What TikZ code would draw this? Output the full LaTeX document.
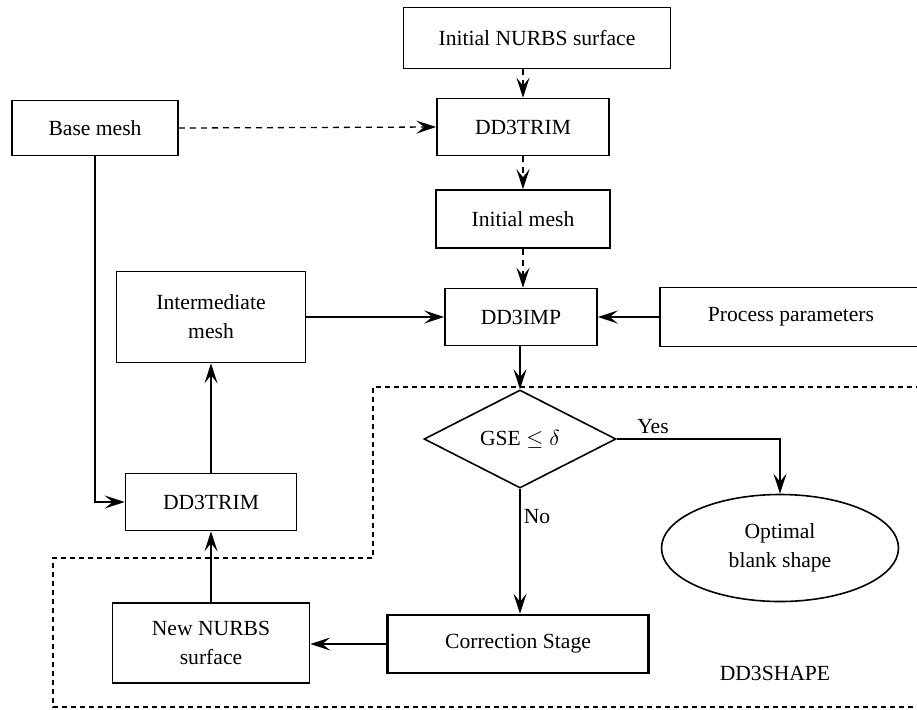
\documentclass[tikz,border=0pt]{standalone}
\usepackage{fontspec}
\setmainfont{Liberation Serif}
\usetikzlibrary{arrows.meta,shapes.geometric}

\begin{document}
\begin{tikzpicture}[x=0.5pt,y=-0.5pt,
  font=\fontsize{10.8}{12.5}\selectfont,
  box/.style={draw,line width=0.8pt,align=center,inner sep=0pt},
  tip/.style={-{Stealth[length=10pt,width=6.5pt,inset=4pt]}},
  flow/.style={tip,line width=0.65pt},
  dflow/.style={tip,line width=0.65pt,dash pattern=on 3pt off 2.5pt}]
  \useasboundingbox (0,0) rectangle (917,709);
  % upper chain
  \node[box,minimum width=133.5pt,minimum height=30.5pt] (init) at (537,38) {Initial NURBS surface};
  \node[box,minimum width=86pt,minimum height=28.5pt] (trimA) at (523,127) {DD3TRIM};
  \node[box,minimum width=87pt,minimum height=29pt] (imesh) at (523,219) {Initial mesh};
  \node[box,minimum width=83pt,minimum height=27.5pt] (base) at (95,128) {Base mesh};
  \node[box,minimum width=94.5pt,minimum height=45.5pt] (inter) at (211,317) {Intermediate\\[2pt]mesh};
  \node[box,minimum width=76pt,minimum height=28.5pt] (imp) at (521,317) {DD3IMP};
  \node[box,minimum width=131pt,minimum height=29.5pt] (proc) at (791,317) {Process parameters};
  % lower part
  \node[draw,diamond,line width=0.8pt,inner sep=0pt,minimum width=96pt,minimum height=35.5pt] (dec) at (520,439) {GSE $\leq\delta$};
  \node[draw,ellipse,line width=0.8pt,align=center,inner sep=0pt,minimum width=118.5pt,minimum height=53.5pt] (opt) at (780,548) {Optimal\\[2pt]blank shape};
  \node[box,minimum width=85.5pt,minimum height=28.5pt] (trimB) at (211,502) {DD3TRIM};
  \node[box,minimum width=98.5pt,minimum height=40pt] (nurbs) at (211,643) {New NURBS\\[2pt]surface};
  \node[box,line width=1.3pt,minimum width=130.5pt,minimum height=29pt] (corr) at (518,644) {Correction Stage};
  \node (shape) at (775,673) {DD3SHAPE};

  % dashed frame of DD3SHAPE
  \draw[line width=0.9pt,dash pattern=on 2.5pt off 2pt] (930,387) -- (373,387) -- (373,558) -- (53,558) -- (53,707) -- (930,707);

  \draw[dflow] (trimA.north |- init.south) -- (trimA.north);
  \draw[dflow] (trimA.south) -- (imesh.north);
  \draw[dflow] (imesh.south) -- (imesh.south |- imp.north);
  \draw[dflow] (base.east) -- (trimA.west);
  \draw[flow] (inter.east) -- (imp.west);
  \draw[flow] (proc.west) -- (imp.east);
  \draw[flow] (dec.north |- imp.south) -- (dec.north);
  \draw[flow] (dec.east) -- (opt.north |- dec.east) -- (opt.north);
  \node (yes) at (653,427) {Yes};
  \draw[flow] (dec.south) -- (dec.south |- corr.north);
  \node (no) at (537,517) {No};
  \draw[flow] (corr.west) -- (corr.west -| nurbs.east);
  \draw[flow] (nurbs.north) -- (trimB.south);
  \draw[flow] (trimB.north) -- (inter.south);
  \draw[flow] (base.south) -- (base.south |- trimB.west) -- (trimB.west);
\end{tikzpicture}
\end{document}
